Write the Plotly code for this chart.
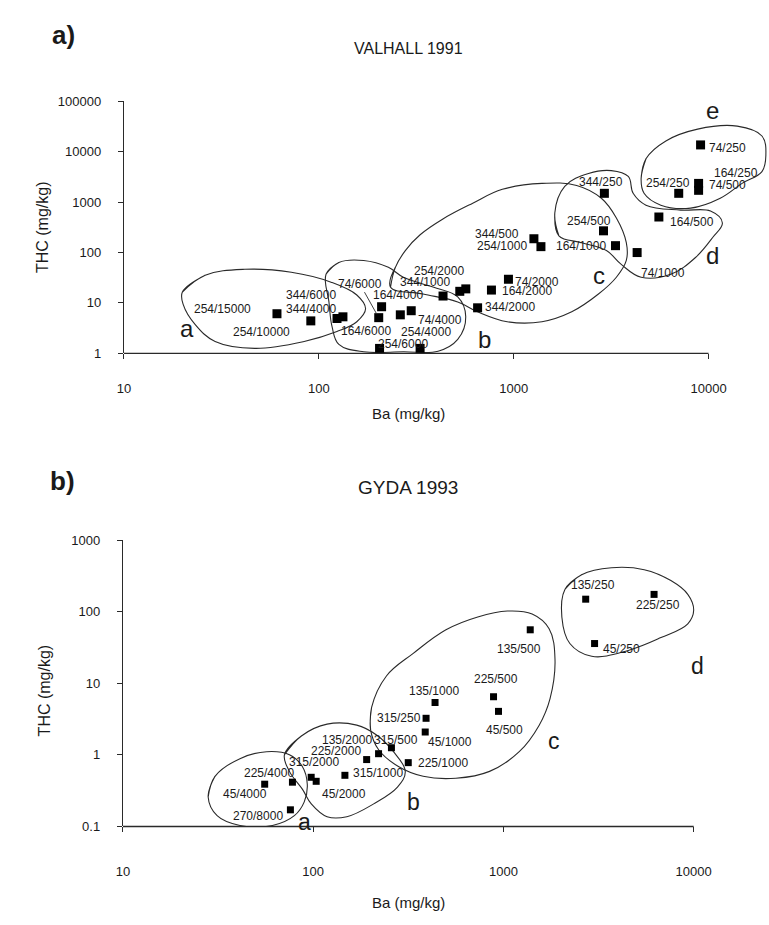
import math
import plotly.graph_objects as go

# ---------------- Panel a) VALHALL 1991 ----------------
val_labels = ["254/15000", "254/10000", "344/6000", "344/4000", "164/4000", "74/6000", "164/6000",
              "74/4000", "254/4000", "254/6000", "344/1000", "254/2000", "", "164/2000", "74/2000",
              "344/2000", "344/500", "254/1000", "164/1000", "74/1000", "254/500", "344/250",
              "164/500", "254/250", "164/250", "74/500", "74/250"]
val_ba = [61, 91, 124, 133, 210, 203, 205, 298, 262, 331, 434, 529, 568, 769, 940, 653,
          1270, 1380, 3330, 4300, 2890, 2920, 5560, 7030, 8890, 8890, 9100]
val_thc = [6.1, 4.4, 4.9, 5.3, 8.4, 5.1, 1.25, 7.0, 5.8, 1.25, 13.7, 17, 19, 18, 29.5, 8.0,
           188, 131, 137, 100, 270, 1500, 508, 1500, 2360, 1720, 13700]
# label offsets from the point, in pixels (dx right, dy up)
val_dx = [-54, -49, -26, -32, 16, -19, -14, 29, 26, -17, -18, -21, 0, 36, 29, 32,
          -37, -39, -34, 26, -14, -3, 33, -11, 37, 29, 27]
val_dy = [5, -11, 24, 8, 12, 34, 17, -9, -17, 4, 14, 20, 0, -1, -3, 1,
          5, 1, 0, -20, 10, 11, -5, 10, 10, 5, -3]

# hand-drawn group outlines (log10 Ba, log10 THC)
val_outline_lx = {
    "a": [1.300, 1.417, 1.620, 1.859, 2.063, 2.195, 2.240, 2.195, 2.093, 1.925, 1.671, 1.468, 1.366, 1.305],
    "b": [2.037, 2.103, 2.230, 2.357, 2.434, 2.586, 2.713, 2.754, 2.713, 2.612, 2.434, 2.230, 2.103, 2.068, 2.052],
    "c": [2.368, 2.393, 2.444, 2.520, 2.637, 2.790, 2.942, 3.145, 3.323, 3.450, 3.527, 3.578, 3.578, 3.527,
          3.435, 3.298, 3.145, 2.967, 2.815, 2.713, 2.535],
    "d": [3.232, 3.211, 3.262, 3.384, 3.501, 3.588, 3.613, 3.679, 3.857, 4.010, 4.071, 4.020, 3.933, 3.806,
          3.654, 3.552, 3.476, 3.349],
    "e": [3.654, 3.679, 3.781, 3.944, 4.147, 4.274, 4.294, 4.274, 4.172, 4.060, 3.908, 3.755, 3.669],
}
val_outline_ly = {
    "a": [1.216, 1.549, 1.667, 1.608, 1.412, 1.157, 0.882, 0.627, 0.431, 0.235, 0.098, 0.235, 0.569, 0.961],
    "b": [1.569, 1.804, 1.843, 1.706, 1.510, 1.314, 1.118, 0.725, 0.275, 0.04, 0.03, 0.03, 0.176, 0.529, 1.020],
    "c": [1.314, 1.706, 2.039, 2.353, 2.667, 2.980, 3.255, 3.373, 3.333, 3.078, 2.686, 2.196, 1.843, 1.510,
          1.176, 0.824, 0.627, 0.627, 0.824, 1.020, 1.176],
    "d": [2.333, 2.784, 3.314, 3.569, 3.627, 3.510, 3.176, 2.941, 2.843, 2.824, 2.588, 2.294, 1.902, 1.569,
          1.510, 1.765, 2.039, 2.196],
    "e": [3.471, 3.863, 4.216, 4.451, 4.510, 4.314, 3.922, 3.608, 3.373, 3.078, 2.882, 2.941, 3.176],
}
val_group_names = ["a", "b", "c", "d", "e"]
val_group_lx = [1.325, 2.851, 3.440, 4.020, 4.020]
val_group_ly = [0.490, 0.275, 1.549, 1.941, 4.830]

val_yticks = [1, 10, 100, 1000, 10000, 100000]

# ---------------- Panel b) GYDA 1993 ----------------
gyda_labels = ["45/4000", "225/4000", "270/8000", "315/2000", "45/2000", "315/1000", "225/2000",
               "135/2000", "315/500", "225/1000", "45/1000", "315/250", "135/1000", "135/500",
               "225/500", "45/500", "135/250", "225/250", "45/250"]
gyda_ba = [55.6, 77.8, 75.9, 97.6, 103.7, 146.8, 191, 220.6, 257.8, 316, 388, 392, 437, 1383,
           887, 942, 2706, 6190, 3013]
gyda_thc = [0.39, 0.416, 0.171, 0.487, 0.428, 0.519, 0.861, 1.04, 1.26, 0.78, 2.09, 3.25, 5.4, 56,
            6.5, 4.06, 150, 175, 36]
gyda_dx = [-20, -23, -32, 3, 28, 33, -31, -32, 5, 35, 25, -27, -1, -11, 2, 6, 7, 4, 27]
gyda_dy = [-10, 9, -6, 15, -13, 2, 9, 14, 8, 0, -10, 0, 12, -19, 18, -19, 14, -11, -5]

gyda_outline_lx = {
    "a": [1.448, 1.484, 1.615, 1.755, 1.875, 1.943, 1.969, 1.953, 1.901, 1.786, 1.615, 1.495],
    "b": [1.849, 1.938, 2.073, 2.229, 2.333, 2.422, 2.484, 2.443, 2.318, 2.177, 2.073, 1.990, 1.943, 1.875],
    "c": [2.302, 2.307, 2.385, 2.526, 2.698, 2.865, 3.021, 3.151, 3.240, 3.271, 3.245, 3.188, 3.083,
          2.927, 2.750, 2.578, 2.448, 2.344],
    "d": [3.323, 3.411, 3.568, 3.740, 3.880, 3.969, 4.000, 3.969, 3.828, 3.656, 3.464, 3.349, 3.307],
}
gyda_outline_ly = {
    "a": [-0.588, -0.299, -0.052, 0.045, 0.003, -0.162, -0.409, -0.656, -0.849, -0.986, -0.986, -0.849],
    "b": [0.003, 0.265, 0.430, 0.416, 0.278, 0.045, -0.230, -0.450, -0.684, -0.863, -0.863, -0.684, -0.478, -0.230],
    "c": [0.347, 0.663, 1.103, 1.419, 1.749, 1.928, 2.010, 1.969, 1.763, 1.337, 0.787, 0.416, 0.045,
          -0.230, -0.326, -0.299, -0.162, 0.072],
    "d": [2.313, 2.519, 2.615, 2.588, 2.436, 2.244, 2.024, 1.832, 1.639, 1.460, 1.378, 1.557, 1.928],
}
gyda_group_names = ["a", "b", "c", "d"]
gyda_group_lx = [1.953, 2.526, 3.266, 4.021]
gyda_group_ly = [-0.931, -0.656, 0.196, 1.241]

gyda_yticks = [0.1, 1, 10, 100, 1000]
gyda_yticktext = ["0.1", "1", "10", "100", "1000"]

x_ticks = [10, 100, 1000, 10000]

# ---------------- figure ----------------
W, H = 769, 925
FONT = "Liberation Sans, Arial, sans-serif"
INK = "#1a1a1a"
LINE = "#2a2a2a"

fig = go.Figure()


def add_outlines(lx_dict, ly_dict, xa, ya):
    for k in lx_dict:
        xs = [10 ** v for v in lx_dict[k]]
        ys = [10 ** v for v in ly_dict[k]]
        xs = xs + xs[:2]
        ys = ys + ys[:2]
        fig.add_trace(go.Scatter(x=xs, y=ys, mode="lines", xaxis=xa, yaxis=ya,
                                 line=dict(color=LINE, width=1.1, shape="spline", smoothing=1.1),
                                 hoverinfo="skip", showlegend=False))


add_outlines(val_outline_lx, val_outline_ly, "x", "y")
add_outlines(gyda_outline_lx, gyda_outline_ly, "x2", "y2")

fig.add_trace(go.Scatter(x=val_ba, y=val_thc, mode="markers", xaxis="x", yaxis="y",
                         marker=dict(symbol="square", size=9, color="black"),
                         showlegend=False, cliponaxis=False))
fig.add_trace(go.Scatter(x=gyda_ba, y=gyda_thc, mode="markers", xaxis="x2", yaxis="y2",
                         marker=dict(symbol="square", size=7, color="black"),
                         showlegend=False, cliponaxis=False))

annotations = []
C = dict(xanchor="center", yanchor="middle")
for lab, bx, ty, dx, dy in zip(val_labels, val_ba, val_thc, val_dx, val_dy):
    if not lab:
        continue
    if lab == "74/6000":
        annotations.append(dict(x=math.log10(bx), y=math.log10(ty), xref="x", yref="y", text=lab,
                                showarrow=True, arrowhead=0, arrowwidth=0.9, arrowcolor=LINE,
                                ax=dx, ay=-dy, standoff=4, font=dict(family=FONT, size=12, color=INK)))
    else:
        annotations.append(dict(x=math.log10(bx), y=math.log10(ty), xref="x", yref="y", text=lab,
                                showarrow=False, xshift=dx, yshift=dy,
                                font=dict(family=FONT, size=12, color=INK), **C))
for lab, bx, ty, dx, dy in zip(gyda_labels, gyda_ba, gyda_thc, gyda_dx, gyda_dy):
    annotations.append(dict(x=math.log10(bx), y=math.log10(ty), xref="x2", yref="y2", text=lab,
                            showarrow=False, xshift=dx, yshift=dy,
                            font=dict(family=FONT, size=12, color=INK), **C))

for g, gx, gy in zip(val_group_names, val_group_lx, val_group_ly):
    annotations.append(dict(x=gx, y=gy, xref="x", yref="y", text=g, showarrow=False,
                            font=dict(family=FONT, size=24, color=INK), **C))
for g, gx, gy in zip(gyda_group_names, gyda_group_lx, gyda_group_ly):
    annotations.append(dict(x=gx, y=gy, xref="x2", yref="y2", text=g, showarrow=False,
                            font=dict(family=FONT, size=23, color=INK), **C))


def paper(px, py):
    return px / W, 1 - py / H


for txt, (px, py), size, bold in [
    ("a)", (57, 28), 26, True),
    ("b)", (56, 482), 26, True),
    ("VALHALL 1991", (405, 42), 16, False),
    ("GYDA 1993", (405, 488), 19, False),
    ("Ba (mg/kg)", (405, 413), 15, False),
    ("Ba (mg/kg)", (405, 910), 15, False),
]:
    x, y = paper(px, py)
    annotations.append(dict(x=x, y=y, xref="paper", yref="paper", text=f"<b>{txt}</b>" if bold else txt,
                            showarrow=False, font=dict(family=FONT, size=size, color=INK), **C))
for px, py in [(36, 224), (38, 695)]:
    x, y = paper(px, py)
    annotations.append(dict(x=x, y=y, xref="paper", yref="paper", text="THC (mg/kg)", textangle=-90,
                            showarrow=False, font=dict(family=FONT, size=16, color=INK), **C))

shapes = [
    dict(type="line", xref="x", yref="y domain", x0=10, x1=10000, y0=0, y1=0,
         line=dict(color=LINE, width=1.3)),
    dict(type="line", xref="x2", yref="y2 domain", x0=10, x1=10000, y0=0, y1=0,
         line=dict(color=LINE, width=1.3)),
]

tickfont = dict(family=FONT, size=13, color=INK)
axis_common = dict(showgrid=False, zeroline=False, ticks="outside", ticklen=5, tickcolor=LINE,
                   tickwidth=1, tickfont=tickfont)

fig.update_layout(
    width=W, height=H, margin=dict(l=0, r=0, t=0, b=0),
    paper_bgcolor="white", plot_bgcolor="white",
    showlegend=False,
    xaxis=dict(type="log", domain=[118 / W, 767 / W], range=[1, 4.3], anchor="y",
               tickvals=x_ticks, ticktext=[str(v) for v in x_ticks], showline=False,
               ticklabelstandoff=18, **axis_common),
    yaxis=dict(type="log", domain=[1 - 352 / H, 1 - 96 / H], range=[0, 5], anchor="x",
               tickvals=val_yticks, ticktext=[str(v) for v in val_yticks], showline=True,
               linecolor=LINE, linewidth=1.3, ticklabelstandoff=14, **axis_common),
    xaxis2=dict(type="log", domain=[117 / W, 731.4 / W], range=[1, 4.2], anchor="y2",
                tickvals=x_ticks, ticktext=[str(v) for v in x_ticks], showline=False,
                ticklabelstandoff=28, **axis_common),
    yaxis2=dict(type="log", domain=[1 - 833 / H, 1 - 542 / H], range=[-1, 3], anchor="x2",
                tickvals=gyda_yticks, ticktext=gyda_yticktext, showline=True,
                linecolor=LINE, linewidth=1.3, ticklabelstandoff=14, **axis_common),
    annotations=annotations,
    shapes=shapes,
)

fig.write_html("out.html")
